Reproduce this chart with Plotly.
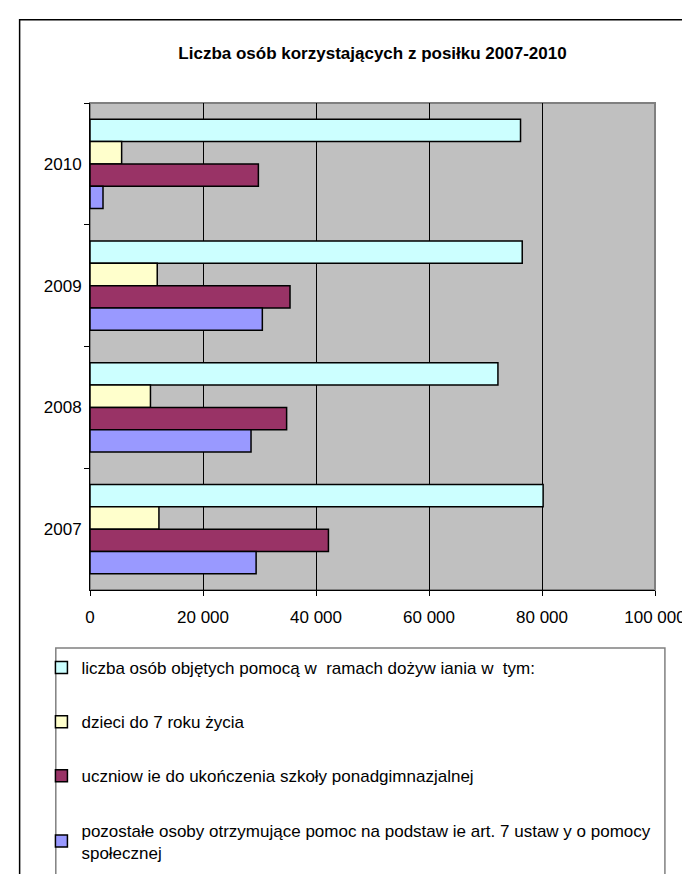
import plotly.graph_objects as go

years = ["2007", "2008", "2009", "2010"]
series_names = [
    "liczba osób objętych pomocą w  ramach dożyw iania w  tym:",
    "dzieci do 7 roku życia",
    "uczniow ie do ukończenia szkoły ponadgimnazjalnej",
    "pozostałe osoby otrzymujące pomoc na podstaw ie art. 7 ustaw y o pomocy<br>społecznej",
]
total_help = [80200, 72200, 76500, 76200]
children_7 = [12200, 10700, 11900, 5600]
pupils = [42200, 34800, 35400, 29800]
others_art7 = [29400, 28500, 30500, 2300]
series_values = [total_help, children_7, pupils, others_art7]
series_colors = ["#CCFFFF", "#FFFFCC", "#993366", "#9999FF"]

x_tickvals = [0, 20000, 40000, 60000, 80000, 100000]
x_ticktext = ["0", "20 000", "40 000", "60 000", "80 000", "100 000"]

W, H = 690, 874
ML, MR, MT, MB = 82, 38, 95, 276
PW = W - ML - MR
PH = H - MT - MB

def px_x(px):
    return (px - ML) / PW

def px_y(py):
    return (H - MB - py) / PH

FONT = "Liberation Sans, Arial, sans-serif"

fig = go.Figure()
for name, vals, col in zip(series_names, series_values, series_colors):
    fig.add_trace(go.Bar(
        y=years, x=vals, name=name, orientation="h",
        marker=dict(color=col, line=dict(color="black", width=1.5)),
        legendgroup=name,
    ))

fig.update_layout(
    width=W, height=H,
    margin=dict(l=ML, r=MR, t=MT, b=MB),
    paper_bgcolor="white",
    plot_bgcolor="#C0C0C0",
    barmode="group",
    bargap=0.266,
    bargroupgap=0,
    font=dict(family=FONT, size=17, color="black"),
    title=dict(
        text="<b>Liczba osób korzystających z posiłku 2007-2010</b>",
        x=0.5, xref="paper", xanchor="center",
        y=1 - 45 / H, yanchor="middle",
        font=dict(family=FONT, size=17, color="black"),
    ),
    xaxis=dict(
        range=[0, 100000],
        tickvals=x_tickvals, ticktext=x_ticktext,
        showgrid=True, gridcolor="black", gridwidth=1,
        zeroline=False,
        showline=True, linecolor="black", linewidth=1,
        ticks="outside", ticklen=5, tickcolor="black", tickwidth=1,
        ticklabelstandoff=7,
        tickfont=dict(size=17),
    ),
    yaxis=dict(
        type="category",
        categoryorder="array",
        categoryarray=years[::-1],
        autorange="reversed",
        showgrid=False, zeroline=False,
        showline=True, linecolor="black", linewidth=1,
        ticks="outside", ticklen=5, tickcolor="black", tickwidth=1,
        tickson="boundaries",
        ticklabelstandoff=4,
        tickfont=dict(size=17),
    ),
    legend=dict(
        x=px_x(33), xanchor="left",
        y=px_y(660), yanchor="top",
        bgcolor="rgba(0,0,0,0)",
        borderwidth=0,
        font=dict(family=FONT, size=17, color="black"),
        tracegroupgap=29,
        traceorder="grouped",
    ),
    shapes=[
        dict(type="rect", xref="paper", yref="paper", x0=0, x1=1, y0=0, y1=1,
             line=dict(color="#808080", width=2), layer="below"),
        dict(type="rect", xref="paper", yref="paper",
             x0=px_x(47.5), x1=px_x(662), y0=px_y(658), y1=px_y(900),
             line=dict(color="#808080", width=1.5), layer="above"),
        dict(type="rect", xref="paper", yref="paper",
             x0=px_x(11), x1=px_x(720), y0=px_y(9), y1=px_y(920),
             line=dict(color="black", width=1.5), layer="above"),
    ],
)

fig.write_html("out.html")
